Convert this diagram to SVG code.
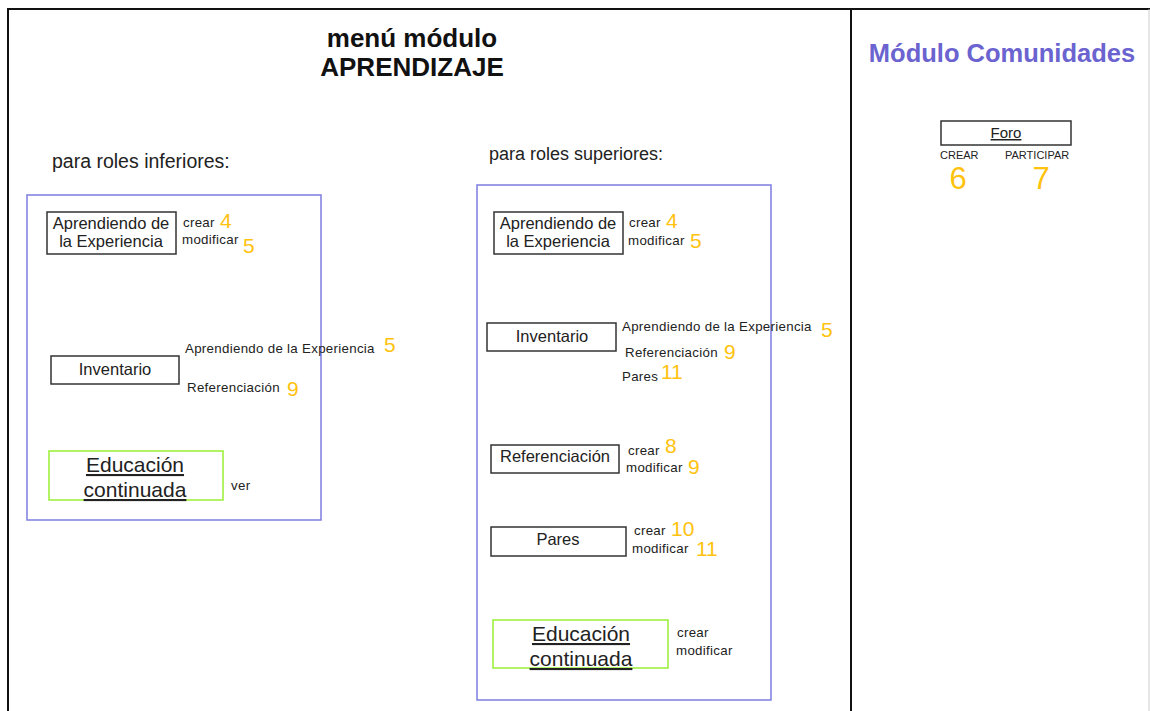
<svg xmlns="http://www.w3.org/2000/svg" width="1150" height="711" viewBox="0 0 1150 711">
<style>
text{font-family:"Liberation Sans",Arial,sans-serif;fill:#222}
.t{font-weight:bold;font-size:26px;fill:#111;text-anchor:middle}
.mc{font-weight:bold;font-size:25.5px;fill:#6b63cf;text-anchor:middle}
.lbl{font-size:18px}
.bx{fill:#fff;stroke:#333;stroke-width:1.5}
.gb{fill:#fff;stroke:#99ee33;stroke-width:1.5}
.blue{fill:none;stroke:#7c7ce0;stroke-width:1.5}
.n{font-size:16.5px;text-anchor:middle}
.e{font-size:21px;text-anchor:middle;text-decoration:underline}
.s{font-size:13.3px;letter-spacing:0.3px}
.o{font-size:21px;fill:#ffc20e}
.big{font-size:31px;fill:#ffc20e;text-anchor:middle}
.cap{font-size:11px}
</style>
<rect x="0" y="0" width="1150" height="711" fill="#fff"/>
<g id="frame">
<path d="M8 711 V9 H1150" fill="none" stroke="#111" stroke-width="2"/>
<line x1="851" y1="9" x2="851" y2="711" stroke="#111" stroke-width="2"/>
<line x1="1149" y1="9" x2="1149" y2="711" stroke="#ccc" stroke-width="1"/>
</g>
<g id="title">
<text class="t" x="412" y="47">menú módulo</text>
<text class="t" x="412" y="76">APRENDIZAJE</text>
<text class="mc" x="1002" y="62">Módulo Comunidades</text>
</g>
<g id="left-panel">
<text class="lbl" x="52" y="168" style="font-size:19.5px">para roles inferiores:</text>
<rect class="blue" x="27" y="195" width="294" height="325"/>
</g>
<g id="right-panel">
<text class="lbl" x="489" y="160">para roles superiores:</text>
<rect class="blue" x="477" y="185" width="294" height="515"/>
</g>
<g id="connectors"></g>
<g id="l-aprendiendo">
<rect class="bx" x="47" y="212" width="129" height="42"/>
<text class="n" x="111" y="229">Aprendiendo de</text>
<text class="n" x="111" y="247">la Experiencia</text>
<text class="s" x="183" y="227">crear</text><text class="o" x="220" y="228">4</text>
<text class="s" x="182" y="244">modificar</text><text class="o" x="243" y="253">5</text>
</g>
<g id="l-inventario">
<rect class="bx" x="51" y="356" width="128" height="28"/>
<text class="n" x="115" y="375">Inventario</text>
<text class="s" x="185" y="353">Aprendiendo de la Experiencia</text><text class="o" x="384" y="352">5</text>
<text class="s" x="187" y="392">Referenciación</text><text class="o" x="287" y="396">9</text>
</g>
<g id="l-educacion">
<rect class="gb" x="49" y="451" width="174" height="49"/>
<text class="e" x="135" y="472">Educación</text>
<text class="e" x="135" y="497">continuada</text>
<text class="s" x="231" y="490">ver</text>
</g>
<g id="r-aprendiendo">
<rect class="bx" x="494" y="212" width="129" height="42"/>
<text class="n" x="558" y="229">Aprendiendo de</text>
<text class="n" x="558" y="247">la Experiencia</text>
<text class="s" x="629" y="227">crear</text><text class="o" x="666" y="228">4</text>
<text class="s" x="628" y="245">modificar</text><text class="o" x="690" y="248">5</text>
</g>
<g id="r-inventario">
<rect class="bx" x="487" y="323" width="129" height="28"/>
<text class="n" x="552" y="342">Inventario</text>
<text class="s" x="622" y="331">Aprendiendo de la Experiencia</text><text class="o" x="821" y="337">5</text>
<text class="s" x="625" y="357">Referenciación</text><text class="o" x="724" y="359">9</text>
<text class="s" x="622" y="381">Pares</text><text class="o" x="661" y="379">11</text>
</g>
<g id="r-referenciacion">
<rect class="bx" x="491" y="445" width="128" height="28"/>
<text class="n" x="555" y="462">Referenciación</text>
<text class="s" x="628" y="455">crear</text><text class="o" x="665" y="453">8</text>
<text class="s" x="626" y="472">modificar</text><text class="o" x="688" y="474">9</text>
</g>
<g id="r-pares">
<rect class="bx" x="491" y="527" width="135" height="29"/>
<text class="n" x="558" y="545">Pares</text>
<text class="s" x="634" y="535">crear</text><text class="o" x="671" y="536">10</text>
<text class="s" x="632" y="553">modificar</text><text class="o" x="696" y="556">11</text>
</g>
<g id="r-educacion">
<rect class="gb" x="493" y="620" width="175" height="48"/>
<text class="e" x="581" y="641">Educación</text>
<text class="e" x="581" y="666">continuada</text>
<text class="s" x="677" y="637">crear</text>
<text class="s" x="676" y="655">modificar</text>
</g>
<g id="foro">
<rect class="bx" x="941" y="121" width="130" height="24"/>
<text class="n" x="1006" y="138" style="text-decoration:underline;font-size:15px">Foro</text>
<text class="cap" x="940" y="159">CREAR</text>
<text class="cap" x="1005" y="159">PARTICIPAR</text>
<text class="big" x="958" y="189">6</text>
<text class="big" x="1041" y="189">7</text>
</g>
</svg>
